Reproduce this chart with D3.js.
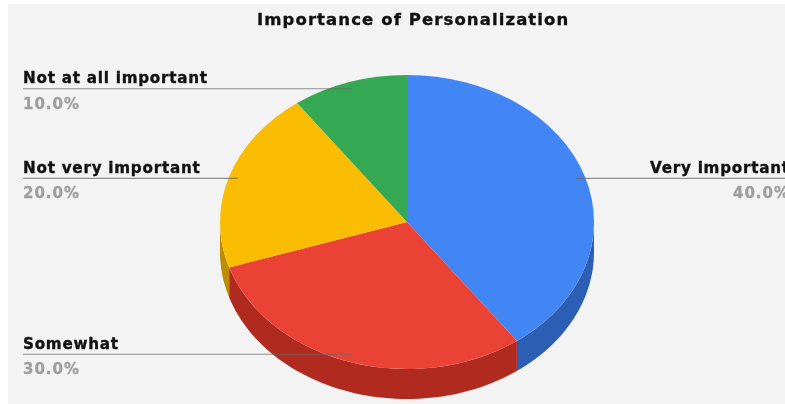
<!DOCTYPE html>
<html>
<head>
<meta charset="utf-8">
<script src="https://cdn.jsdelivr.net/npm/d3@7/dist/d3.min.js"></script>
<style>
html,body{margin:0;padding:0;background:#fff;overflow:hidden}
svg{display:block}
text{font-family:"DejaVu Sans",sans-serif;font-weight:700}
</style>
</head>
<body>
<svg id="c" width="785" height="404"></svg>
<script>
const titleText = "Importance of Personalization";
const categories = ["Very important", "Somewhat", "Not very important", "Not at all important"];
const values = [40, 30, 20, 10];
const colors = ["#4285f4", "#ea4335", "#fbbc04", "#34a853"];
const sideColors = ["#2c5fb3", "#b02a20", "#bc8d03", "#277e3f"];

const W = 785, H = 404, cx = 407, cy = 222, rx = 187, ry = 147, depth = 30;
const svg = d3.select("#c");
const root = svg.append("g").style("filter", "blur(0.5px)");

root.append("rect").attr("x", 8).attr("y", 4).attr("width", W - 8).attr("height", H - 4).attr("fill", "#f3f3f3");

const pie = d3.pie().sort(null).value(d => d)(values);
const px = a => cx + rx * Math.sin(a);
const py = a => cy - ry * Math.cos(a);

// side walls (front half of the disc only)
const sides = root.append("g");
pie.forEach((s, i) => {
  const a0 = Math.max(s.startAngle, Math.PI / 2), a1 = Math.min(s.endAngle, 3 * Math.PI / 2);
  if (a1 <= a0) return;
  const p = d3.path();
  p.moveTo(px(a0), py(a0));
  const steps = d3.range(0, 61).map(k => a0 + (a1 - a0) * k / 60);
  steps.forEach(a => p.lineTo(px(a), py(a) + depth));
  steps.slice().reverse().forEach(a => p.lineTo(px(a), py(a)));
  p.closePath();
  sides.append("path").attr("d", p.toString()).attr("fill", sideColors[i]);
});

// top face
const arc = d3.arc().innerRadius(0).outerRadius(rx);
root.append("g").attr("transform", `translate(${cx},${cy}) scale(1,${ry / rx})`)
  .selectAll("path").data(pie).join("path")
  .attr("d", arc).attr("fill", (d, i) => colors[i]);

// leaders and labels
const labels = root.append("g");
pie.forEach((s, i) => {
  const mid = (s.startAngle + s.endAngle) / 2;
  const f = 0.95;
  const ex = cx + rx * f * Math.sin(mid), ey = cy - ry * f * Math.cos(mid) - 0.5;
  const right = Math.sin(mid) > 0;
  const x0 = right ? W : 23;
  labels.append("line").attr("x1", x0).attr("x2", ex).attr("y1", ey).attr("y2", ey)
    .attr("stroke", "#666").attr("stroke-width", 1.1).attr("stroke-opacity", 0.7);
  const tx = right ? 650 : 23;
  labels.append("text").attr("x", tx).attr("y", ey - 5.5).attr("font-size", 15.2)
    .attr("letter-spacing", 0.75).attr("stroke", "#111").attr("stroke-width", 0.35)
    .attr("fill", "#111").text(categories[i]);
  const pct = d3.format(".1f")(values[i]) + "%";
  labels.append("text").attr("x", right ? 733 : 23).attr("y", ey + 20).attr("font-size", 15)
    .attr("letter-spacing", 1).attr("stroke", "#9e9e9e").attr("stroke-width", 0.3)
    .attr("fill", "#9e9e9e").text(pct);
});

root.append("text").attr("x", 257).attr("y", 25).attr("font-size", 16.5)
  .attr("letter-spacing", 1.1).attr("stroke", "#111").attr("stroke-width", 0.35)
  .attr("fill", "#111").text(titleText);
</script>
</body>
</html>
